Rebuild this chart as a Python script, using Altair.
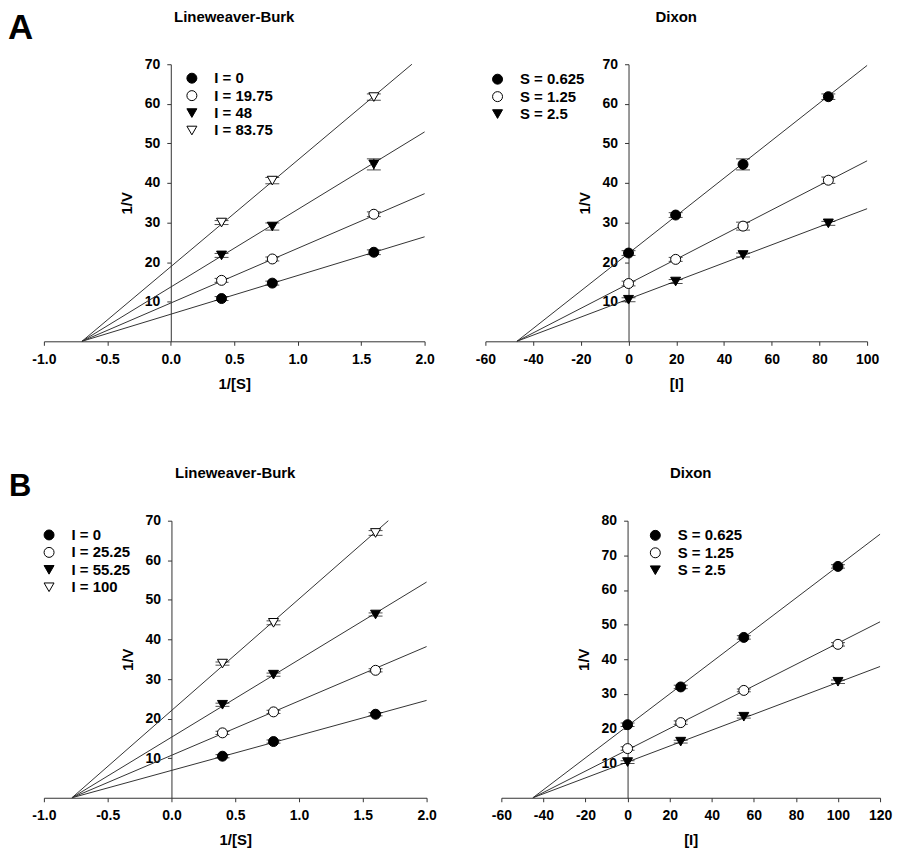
import altair as alt
import pandas as pd

# ---------------- Panel A : Lineweaver-Burk ----------------
A_LB_X = [0.4, 0.8, 1.6]
A_LB_LABELS = ["I = 0", "I = 19.75", "I = 48", "I = 83.75"]
A_LB_Y = [[10.8, 14.7, 22.5], [15.4, 20.8, 32.1], [21.7, 29.0, 44.7], [30.0, 40.6, 61.7]]
A_LB_ERR = [[0.5, 0.5, 0.6], [0.5, 0.5, 0.6], [0.5, 0.9, 1.4], [0.5, 0.8, 0.8]]
A_LB_LINE_X0 = [-0.70, -0.70, -0.70, -0.70]
A_LB_LINE_X1 = [2.0, 2.0, 2.0, 1.90]
A_LB_LINE_Y1 = [26.4, 37.3, 52.9, 70.0]

# ---------------- Panel A : Dixon ----------------
A_DX_X = [0, 19.75, 48, 83.75]
A_DX_LABELS = ["S = 0.625", "S = 1.25", "S = 2.5"]
A_DX_Y = [[22.3, 31.9, 44.7, 61.8], [14.6, 20.7, 29.1, 40.7], [10.5, 15.1, 21.8, 29.8]]
A_DX_ERR = [[0.6, 0.6, 1.4, 0.7], [0.6, 0.5, 1.0, 0.8], [0.5, 0.5, 0.5, 0.5]]
A_DX_LINE_X0 = [-46.8, -46.8, -46.8]
A_DX_LINE_X1 = [100, 100, 100]
A_DX_LINE_Y1 = [69.7, 45.6, 33.5]

# ---------------- Panel B : Lineweaver-Burk ----------------
B_LB_X = [0.4, 0.8, 1.6]
B_LB_LABELS = ["I = 0", "I = 25.25", "I = 55.25", "I = 100"]
B_LB_Y = [[10.5, 14.2, 21.1], [16.4, 21.7, 32.2], [23.5, 31.1, 46.3], [33.9, 44.2, 66.9]]
B_LB_ERR = [[0.4, 0.4, 0.4], [0.4, 0.4, 0.4], [0.4, 0.4, 0.4], [0.4, 0.5, 0.6]]
B_LB_LINE_X0 = [-0.78, -0.78, -0.78, -0.78]
B_LB_LINE_X1 = [2.0, 2.0, 2.0, 1.70]
B_LB_LINE_Y1 = [24.6, 38.2, 54.5, 70.0]

# ---------------- Panel B : Dixon ----------------
B_DX_X = [0, 25.25, 55.25, 100]
B_DX_LABELS = ["S = 0.625", "S = 1.25", "S = 2.5"]
B_DX_Y = [[21.1, 32.0, 46.3, 66.8], [14.2, 21.7, 31.0, 44.3], [10.3, 16.2, 23.4, 33.5]]
B_DX_ERR = [[0.5, 0.5, 0.5, 0.5], [0.5, 0.5, 0.4, 0.5], [0.4, 0.4, 0.4, 0.5]]
B_DX_LINE_X0 = [-45.0, -45.0, -45.0]
B_DX_LINE_X1 = [120, 120, 120]
B_DX_LINE_Y1 = [76.1, 50.8, 37.9]

SHAPES = ["circle", "circle", "triangle-down", "triangle-down"]
FILLS = ["black", "white", "black", "white"]

FONT = "Liberation Sans"
LINE_COLOR = "#333333"


def panel(xs, labels, ys, errs, lx0, lx1, ly1, xdom, xticks, xexpr, ydom, yticks,
          xtitle, title, width, height, legx, legy, letter=None):
    pts = []
    for lab, yrow, erow in zip(labels, ys, errs):
        for x, y, e in zip(xs, yrow, erow):
            pts.append({"series": lab, "x": x, "y": y, "lo": y - e, "hi": y + e})
    pts = pd.DataFrame(pts)
    lines = []
    for lab, a, b, c in zip(labels, lx0, lx1, ly1):
        lines.append({"series": lab, "x": a, "y": 0.0, "o": 0})
        lines.append({"series": lab, "x": b, "y": c, "o": 1})
    lines = pd.DataFrame(lines)

    yoff = -(0 - xdom[0]) / (xdom[1] - xdom[0]) * width

    xscale = alt.Scale(domain=xdom, nice=False, zero=False)
    yscale = alt.Scale(domain=ydom, nice=False, zero=False)
    xaxis = alt.Axis(values=xticks, labelExpr=xexpr, title=xtitle, grid=False,
                     tickSize=4, labelPadding=7, titlePadding=10,
                     labelOverlap=False, labelFlush=False, labelBound=False,
                     labelFontSize=14, labelFontWeight="bold", labelColor="black",
                     titleFontSize=15, titleFontWeight="bold", titleColor="black",
                     domainColor=LINE_COLOR, tickColor=LINE_COLOR)
    yaxis = alt.Axis(values=yticks, title="1/V", grid=False, offset=yoff,
                     tickSize=4, labelPadding=7, titlePadding=10,
                     labelOverlap=False, labelFlush=False, labelBound=False,
                     labelFontSize=14, labelFontWeight="bold", labelColor="black",
                     titleFontSize=15, titleFontWeight="bold", titleColor="black",
                     domainColor=LINE_COLOR, tickColor=LINE_COLOR)

    n = len(labels)
    leg = alt.Legend(orient="none", legendX=legx, legendY=legy, title=None,
                     labelFontSize=15, labelFontWeight="bold", labelColor="black",
                     symbolSize=100, symbolStrokeWidth=1,
                     rowPadding=1.5, labelOffset=15)

    line_layer = alt.Chart(lines).mark_line(color=LINE_COLOR, strokeWidth=1).encode(
        x=alt.X("x:Q", scale=xscale, axis=xaxis),
        y=alt.Y("y:Q", scale=yscale, axis=yaxis),
        detail="series:N",
        order="o:Q",
    )
    err_rule = alt.Chart(pts).mark_rule(color="black", strokeWidth=1).encode(
        x=alt.X("x:Q", axis=xaxis), y=alt.Y("lo:Q", axis=yaxis), y2="hi:Q")
    cap_hi = alt.Chart(pts).mark_tick(color="black", thickness=1, size=14,
                                      orient="horizontal").encode(
        x=alt.X("x:Q", axis=xaxis), y=alt.Y("hi:Q", axis=yaxis))
    cap_lo = alt.Chart(pts).mark_tick(color="black", thickness=1, size=14,
                                      orient="horizontal").encode(
        x=alt.X("x:Q", axis=xaxis), y=alt.Y("lo:Q", axis=yaxis))
    point_layer = alt.Chart(pts).mark_point(filled=True, strokeWidth=1,
                                            size=100, opacity=1).encode(
        x=alt.X("x:Q", axis=xaxis),
        y=alt.Y("y:Q", axis=yaxis),
        shape=alt.Shape("series:N", scale=alt.Scale(domain=labels, range=SHAPES[:n]),
                        legend=leg),
        fill=alt.Fill("series:N", scale=alt.Scale(domain=labels, range=FILLS[:n]),
                      legend=leg),
        stroke=alt.Stroke("series:N", scale=alt.Scale(domain=labels, range=["black"] * n),
                          legend=leg),
    )
    tdf = pd.DataFrame({"t": [title]})
    title_layer = alt.Chart(tdf).mark_text(
        font=FONT, fontSize=15, fontWeight="bold", align="center",
        baseline="alphabetic", color="black").encode(
        text="t:N", x=alt.value(width / 2), y=alt.value(-42.5))
    layers = [line_layer, err_rule, cap_hi, cap_lo, point_layer, title_layer]
    if letter is not None:
        ldf = pd.DataFrame({"letter": [letter[0]]})
        layers.append(alt.Chart(ldf).mark_text(
            font=FONT, fontSize=letter[3], fontWeight="bold", align="left",
            baseline="alphabetic", color="black").encode(
            text="letter:N", x=alt.value(letter[1]), y=alt.value(letter[2])))
    return alt.layer(*layers).properties(width=width, height=height)


LB_TICKS = [-1.0, -0.5, 0.0, 0.5, 1.0, 1.5, 2.0]
LB_EXPR = "replace(format(datum.value, '.1f'), '\u2212', '-')"
DX_EXPR = "'' + datum.value"

a_lb = panel(A_LB_X, A_LB_LABELS, A_LB_Y, A_LB_ERR, A_LB_LINE_X0, A_LB_LINE_X1, A_LB_LINE_Y1,
             [-1.0, 2.0], LB_TICKS, LB_EXPR, [0, 70], [10, 20, 30, 40, 50, 60, 70],
             "1/[S]", "Lineweaver-Burk", 382, 278, 141, 6.5, letter=("A", -36, -25, 35))
a_dx = panel(A_DX_X, A_DX_LABELS, A_DX_Y, A_DX_ERR, A_DX_LINE_X0, A_DX_LINE_X1, A_DX_LINE_Y1,
             [-60, 100], [-60, -40, -20, 0, 20, 40, 60, 80, 100], DX_EXPR, [0, 70],
             [10, 20, 30, 40, 50, 60, 70], "[I]", "Dixon", 383, 278, 4.7, 7.5)
b_lb = panel(B_LB_X, B_LB_LABELS, B_LB_Y, B_LB_ERR, B_LB_LINE_X0, B_LB_LINE_X1, B_LB_LINE_Y1,
             [-1.0, 2.0], LB_TICKS, LB_EXPR, [0, 70], [10, 20, 30, 40, 50, 60, 70],
             "1/[S]", "Lineweaver-Burk", 384, 278, -2.3, 6.8, letter=("B", -35, -25, 31))
b_dx = panel(B_DX_X, B_DX_LABELS, B_DX_Y, B_DX_ERR, B_DX_LINE_X0, B_DX_LINE_X1, B_DX_LINE_Y1,
             [-60, 120], [-60, -40, -20, 0, 20, 40, 60, 80, 100, 120], DX_EXPR, [0, 80],
             [10, 20, 30, 40, 50, 60, 70, 80], "[I]", "Dixon", 380, 278, 147, 7.2)

row_a = alt.hconcat(a_lb, a_dx, spacing=61, bounds="flush").resolve_scale(
    x="independent", y="independent", shape="independent", fill="independent",
    stroke="independent")
row_b = alt.hconcat(b_lb, b_dx, spacing=75, bounds="flush").resolve_scale(
    x="independent", y="independent", shape="independent", fill="independent",
    stroke="independent")

chart = alt.vconcat(row_a, row_b, spacing=458, bounds="flush").resolve_scale(
    x="independent", y="independent", shape="independent", fill="independent",
    stroke="independent"
).properties(
    padding={"left": 0, "top": 0, "right": 5, "bottom": 5},
).configure(font=FONT).configure_view(stroke=None).configure_axis(
    labelFont=FONT, titleFont=FONT, labelOverlap=False
).configure_legend(labelFont=FONT)

chart.save("out.html", embed_options={"renderer": "svg", "actions": False})
